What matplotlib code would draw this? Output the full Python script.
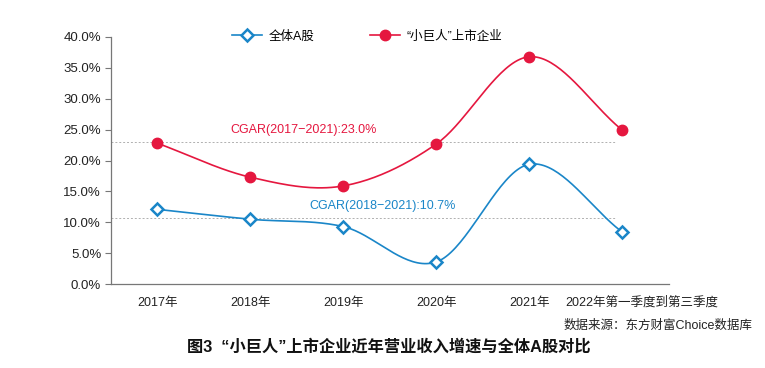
import numpy as np
import matplotlib.pyplot as plt
from matplotlib.transforms import ScaledTranslation

plt.rcParams['font.family'] = ['Liberation Sans', 'Noto Sans CJK SC', 'DejaVu Sans']

categories = ['2017年', '2018年', '2019年', '2020年', '2021年', '2022年第一季度到第三季度']
all_a = [12.1, 10.5, 9.3, 3.6, 19.4, 8.4]
giants = [22.8, 17.3, 15.9, 22.7, 36.8, 24.9]
cagr_giants = 23.0
cagr_all = 10.7

blue = '#1a86c8'
red = '#e5173f'


def catmull_rom(x, y, n=40):
    x = np.asarray(x, float)
    y = np.asarray(y, float)
    px = np.concatenate([[2 * x[0] - x[1]], x, [2 * x[-1] - x[-2]]])
    py = np.concatenate([[2 * y[0] - y[1]], y, [2 * y[-1] - y[-2]]])
    xs, ys = [], []
    t = np.linspace(0, 1, n)
    for i in range(1, len(px) - 2):
        for arr, out in ((px, xs), (py, ys)):
            p0, p1, p2, p3 = arr[i - 1:i + 3]
            out.extend(0.5 * (2 * p1 + (-p0 + p2) * t
                              + (2 * p0 - 5 * p1 + 4 * p2 - p3) * t ** 2
                              + (-p0 + 3 * p1 - 3 * p2 + p3) * t ** 3))
    return np.array(xs), np.array(ys)


fig = plt.figure(figsize=(7.65, 3.68), dpi=100)
ax = fig.add_axes([0.145, 0.228, 0.7295, 0.6715])

x = np.arange(len(categories))

ax.hlines(cagr_giants, -0.5, 4.93, colors='#b0b0b0', linestyles=(0, (2, 2)), linewidth=0.7)
ax.hlines(cagr_all, -0.5, 4.93, colors='#b0b0b0', linestyles=(0, (2, 2)), linewidth=0.7)

sx, sy = catmull_rom(x, all_a)
ax.plot(sx, sy, color=blue, linewidth=1.2)
ax.plot(x, all_a, linestyle='none', marker='D', markersize=6.5, markerfacecolor='white',
        markeredgecolor=blue, markeredgewidth=1.8)
sx, sy = catmull_rom(x, giants)
ax.plot(sx, sy, color=red, linewidth=1.2)
ax.plot(x, giants, linestyle='none', marker='o', markersize=7.5, color=red)

# legend proxies
ax.plot([], [], color=blue, linewidth=1.2, marker='D', markersize=6.5, markerfacecolor='white',
        markeredgecolor=blue, markeredgewidth=1.8, label='全体A股')
ax.plot([], [], color=red, linewidth=1.2, marker='o', markersize=7.5, label='“小巨人”上市企业')
handles, labels = ax.get_legend_handles_labels()
fig.legend(handles, labels, loc='center', bbox_to_anchor=(0.48, 0.9), ncol=2, frameon=False,
           fontsize=9, columnspacing=4.5, handlelength=2.4, handletextpad=0.5)

ax.text(1.57, 24.0, 'CGAR(2017−2021):23.0%', color=red, fontsize=9, ha='center', va='bottom')
ax.text(2.42, 11.7, 'CGAR(2018−2021):10.7%', color=blue, fontsize=9, ha='center', va='bottom')

ax.set_xlim(-0.5, 5.5)
ax.set_ylim(0, 40)
ax.set_yticks(np.arange(0, 41, 5))
ax.set_yticklabels([f'{v:.1f}%' for v in np.arange(0, 41, 5)], fontsize=9.5, color='#222222')
ax.set_xticks(x)
ax.set_xticklabels(categories, fontsize=9, color='#222222')
ax.tick_params(axis='x', length=0, pad=9)
ax.tick_params(axis='y', length=4, width=0.8, color='#777777', pad=3)
last = ax.get_xticklabels()[-1]
last.set_transform(last.get_transform() + ScaledTranslation(0.19, 0, fig.dpi_scale_trans))

for s in ['top', 'right']:
    ax.spines[s].set_visible(False)
for s in ['left', 'bottom']:
    ax.spines[s].set_color('#777777')
    ax.spines[s].set_linewidth(0.9)

fig.text(0.983, 0.115, '数据来源：东方财富Choice数据库', fontsize=9, ha='right', va='center',
         color='#222222')
fig.text(0.508, 0.057, '图3  “小巨人”上市企业近年营业收入增速与全体A股对比', fontsize=11.7,
         fontweight='bold', ha='center', va='center', color='#111111')

fig.savefig('out.png', dpi=100)
